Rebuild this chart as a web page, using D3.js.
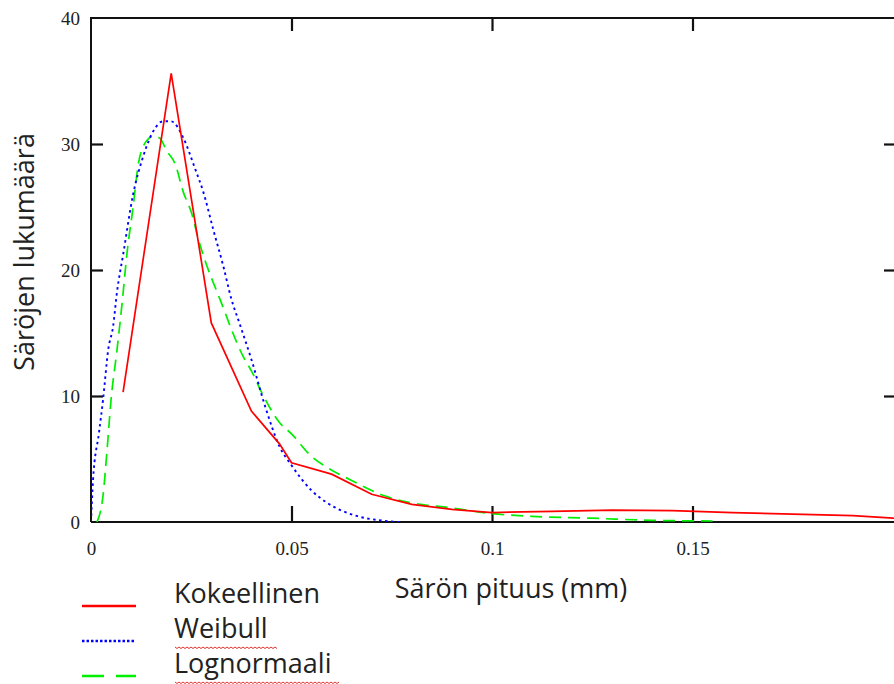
<!DOCTYPE html>
<html>
<head>
<meta charset="utf-8">
<script src="https://cdn.jsdelivr.net/npm/d3@7"></script>
<style>
  body { margin: 0; background: #fff; }
  svg { display: block; }
</style>
</head>
<body>
<svg id="chart" width="894" height="684"></svg>
<script>
// values: [length (mm), count]
var kokeellinen = [[0.008,10.3],[0.020,35.6],[0.030,15.8],[0.040,8.8],[0.047,6.2],[0.050,4.7],
  [0.060,3.8],[0.070,2.2],[0.080,1.4],[0.090,1.0],[0.100,0.75],[0.115,0.85],[0.130,0.95],
  [0.145,0.9],[0.160,0.75],[0.175,0.62],[0.190,0.5],[0.200,0.3],[0.210,0.2]];

var weibull = [[0,0],[0.0005,3.3],[0.002,7.1],[0.003,9.7],[0.0043,13.7],[0.0055,15.5],
  [0.0065,18.3],[0.008,21.2],[0.0105,26],[0.013,29],[0.0155,31],[0.018,31.8],[0.020,31.8],
  [0.023,30.5],[0.026,28],[0.028,26.2],[0.0305,23.2],[0.033,20.3],[0.035,17.7],[0.037,15.8],
  [0.040,12.9],[0.0435,9.1],[0.047,6],[0.050,4.5],[0.055,2.5],[0.059,1.5],[0.0655,0.55],
  [0.073,0.1],[0.077,0]];

var lognormaali = [[0.0015,0],[0.003,2.1],[0.004,5.7],[0.005,9.7],[0.0065,13.7],[0.0078,17.5],
  [0.009,21.4],[0.0105,25],[0.0118,28.4],[0.013,29.8],[0.0155,30.6],[0.017,30.5],[0.019,29.4],
  [0.021,28.4],[0.023,26.2],[0.025,24.6],[0.027,22.2],[0.0285,20.7],[0.0315,18.2],[0.033,17],
  [0.035,15.3],[0.038,13.1],[0.040,12.0],[0.043,10.0],[0.047,7.9],[0.050,7.0],[0.055,5.2],
  [0.059,4.3],[0.065,3.3],[0.073,2.1],[0.0765,1.75],[0.0835,1.35],[0.088,1.2],[0.100,0.66],
  [0.110,0.45],[0.125,0.3],[0.140,0.13],[0.155,0.08]];

var xTicks = [0, 0.05, 0.1, 0.15];
var xTickLabels = ["0", "0.05", "0.1", "0.15"];
var yTicks = [0, 10, 20, 30, 40];

var legendNames = ["Kokeellinen", "Weibull", "Lognormaali"];

var svg = d3.select("svg#chart");

var x = d3.scaleLinear().domain([0, 0.2]).range([91, 893]);
var y = d3.scaleLinear().domain([0, 40]).range([522, 18]);

var frameColor = "#111";
var tickFont = "'Liberation Serif', 'DejaVu Serif', serif";

// box (right side runs off the picture)
svg.append("path")
  .attr("d", "M" + x(0) + "," + y(0) + "V" + y(40) + "H" + 900 + "M" + x(0) + "," + y(0) + "H" + 900)
  .attr("fill", "none")
  .attr("stroke", frameColor)
  .attr("stroke-width", 2);

// axes, ticks point inward on all four sides
var xAxis = svg.append("g").attr("transform", translate(0, y(0)))
  .call(d3.axisBottom(x).tickValues(xTicks).tickSize(-16).tickSizeOuter(0).tickPadding(20)
    .tickFormat((d, i) => xTickLabels[i]));
var yAxis = svg.append("g").attr("transform", translate(x(0), 0))
  .call(d3.axisLeft(y).tickValues(yTicks).tickSize(-12).tickSizeOuter(0).tickPadding(11)
    .tickFormat(d3.format("d")));
var topAxis = svg.append("g").attr("transform", translate(0, y(40)))
  .call(d3.axisTop(x).tickValues(xTicks.slice(1)).tickSize(-13).tickSizeOuter(0).tickFormat(""));
var rightAxis = svg.append("g").attr("transform", translate(897, 0))
  .call(d3.axisRight(y).tickValues(yTicks.slice(1, 4)).tickSize(-13).tickSizeOuter(0).tickFormat(""));

[xAxis, yAxis, topAxis, rightAxis].forEach(function(a) {
  a.select(".domain").remove();
  a.selectAll(".tick line").attr("stroke", frameColor).attr("stroke-width", 2.2);
  a.selectAll(".tick text")
    .style("font-family", tickFont)
    .style("font-size", "19px")
    .attr("fill", "#222");
});
xAxis.selectAll(".tick").filter(d => d === 0).select("line").remove();
yAxis.selectAll(".tick").filter(d => d === 0 || d === 40).select("line").remove();
yAxis.selectAll(".tick text").attr("dy", "0.36em");

// curves
var line = d3.line().x(d => x(d[0])).y(d => y(d[1]));
var smooth = d3.line().x(d => x(d[0])).y(d => y(d[1])).curve(d3.curveMonotoneX);

svg.append("clipPath").attr("id", "plotclip")
  .append("rect").attr("x", x(0)).attr("y", y(40)).attr("width", 900 - x(0)).attr("height", y(0) - y(40));

var curves = svg.append("g").attr("clip-path", "url(#plotclip)");

curves.append("path").datum(lognormaali)
  .attr("d", smooth).attr("fill", "none")
  .attr("stroke", "#00ee00").attr("stroke-width", 1.7)
  .attr("stroke-dasharray", "12,7");

curves.append("path").datum(weibull)
  .attr("d", smooth).attr("fill", "none")
  .attr("stroke", "#0000ff").attr("stroke-width", 1.9)
  .attr("stroke-dasharray", "2.5,3.5");

curves.append("path").datum(kokeellinen)
  .attr("d", line).attr("fill", "none")
  .attr("stroke", "#ff0000").attr("stroke-width", 1.7);

// axis titles
var labelFont = "'Open Sans', Lato, sans-serif";
svg.append("text")
  .attr("x", 511)
  .attr("y", 598)
  .attr("text-anchor", "middle")
  .style("font-family", labelFont)
  .style("font-size", "27px")
  .attr("fill", "#222")
  .text("Särön pituus (mm)");

svg.append("text")
  .attr("transform", translate(34, 252) + " rotate(-90)")
  .attr("text-anchor", "middle")
  .style("font-family", labelFont)
  .style("font-size", "27px")
  .attr("fill", "#222")
  .text("Säröjen lukumäärä");

// legend
var legendStyles = [
  { color: "#ff0000", dash: null, width: 2.4 },
  { color: "#0000ff", dash: "2.5,2", width: 2.6 },
  { color: "#00ee00", dash: "22,12", width: 2.6 }
];
var legendY = [606, 641, 676];

var legend = svg.append("g").attr("id", "legend");
legendNames.forEach(function(name, i) {
  legend.append("line")
    .attr("x1", 82).attr("x2", 136)
    .attr("y1", legendY[i]).attr("y2", legendY[i])
    .attr("stroke", legendStyles[i].color)
    .attr("stroke-width", legendStyles[i].width)
    .attr("stroke-dasharray", legendStyles[i].dash);
  legend.append("text")
    .attr("x", 174)
    .attr("y", legendY[i] - 3)
    .style("font-family", labelFont)
    .style("font-size", "27px")
    .attr("fill", "#222")
    .text(name);
});

// red spell-check squiggles under Weibull and Lognormaali
function squiggle(x0, x1, yy) {
  var pts = [];
  for (var k = 0; x0 + k * 2 <= x1; k++) pts.push([x0 + k * 2, yy + (k % 2 ? 1.5 : 0)]);
  return d3.line()(pts);
}
legend.append("path").attr("d", squiggle(175, 278, 647))
  .attr("fill", "none").attr("stroke", "#e03030").attr("stroke-width", 1);
legend.append("path").attr("d", squiggle(175, 340, 682))
  .attr("fill", "none").attr("stroke", "#e03030").attr("stroke-width", 1);

function translate(a, b) {
  return 'translate(' + String(a) + ',' + String(b) + ')';
}
</script>
</body>
</html>
